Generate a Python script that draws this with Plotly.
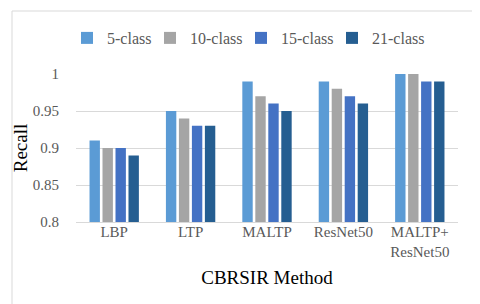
import plotly.graph_objects as go

categories = ["LBP", "LTP", "MALTP", "ResNet50", "MALTP+<br>ResNet50"]
series_names = ["5-class", "10-class", "15-class", "21-class"]
recall_5 = [0.91, 0.95, 0.99, 0.99, 1.00]
recall_10 = [0.90, 0.94, 0.97, 0.98, 1.00]
recall_15 = [0.90, 0.93, 0.96, 0.97, 0.99]
recall_21 = [0.89, 0.93, 0.95, 0.96, 0.99]
series_values = [recall_5, recall_10, recall_15, recall_21]
colors = ["#5B9BD5", "#A5A5A5", "#4472C4", "#255E91"]
legend_widths = [38, 46, 46, 52]
y_ticks = [0.8, 0.85, 0.9, 0.95, 1]
y_tick_labels = ["0.8", "0.85", "0.9", "0.95", "1"]

FONT = "Liberation Serif"

fig = go.Figure()
for name, vals, c, lw in zip(series_names, series_values, colors, legend_widths):
    fig.add_trace(go.Bar(name=name, x=categories, y=vals, marker_color=c,
                         marker_line_width=0, legendwidth=lw))

W, H = 480, 304
L, R, T, B = 68, 30, 66, 90
pw, ph = W - L - R, H - T - B

def px_x(x):
    return (x - L) / pw

def px_y(y):
    return (H - B - y) / ph

fig.update_layout(
    width=W, height=H,
    margin=dict(l=L, r=R, t=T, b=B, autoexpand=False),
    paper_bgcolor="white", plot_bgcolor="white",
    barmode="group", bargap=0.32, bargroupgap=0.2,
    font=dict(family=FONT, size=15, color="#595959"),
    showlegend=True,
    legend=dict(orientation="h", xref="container", yref="container",
                x=0.5, xanchor="center", y=1 - 30 / H, yanchor="middle",
                font=dict(family=FONT, size=16, color="#595959"),
                itemwidth=30, tracegroupgap=0, bgcolor="rgba(0,0,0,0)"),
    xaxis=dict(showgrid=False, showline=True, linecolor="#D9D9D9", linewidth=1,
               tickfont=dict(family=FONT, size=15, color="#595959"),
               ticklabelstandoff=-4,
               title=dict(text="CBRSIR Method", font=dict(family=FONT, size=19, color="black"),
                          standoff=12)),
    yaxis=dict(range=[0.8, 1.0], tickvals=y_ticks, ticktext=y_tick_labels,
               showgrid=True, gridcolor="#D9D9D9", gridwidth=1, zeroline=False,
               tickfont=dict(family=FONT, size=15, color="#595959"),
               ticklabelstandoff=16,
               title=dict(text="Recall", font=dict(family=FONT, size=19, color="black"),
                          standoff=0)),
    shapes=[dict(type="rect", xref="paper", yref="paper",
                 x0=px_x(4), x1=px_x(472), y0=px_y(299), y1=px_y(3),
                 line=dict(color="#D9D9D9", width=1), fillcolor="rgba(0,0,0,0)", layer="below")],
)

fig.write_html("out.html")
